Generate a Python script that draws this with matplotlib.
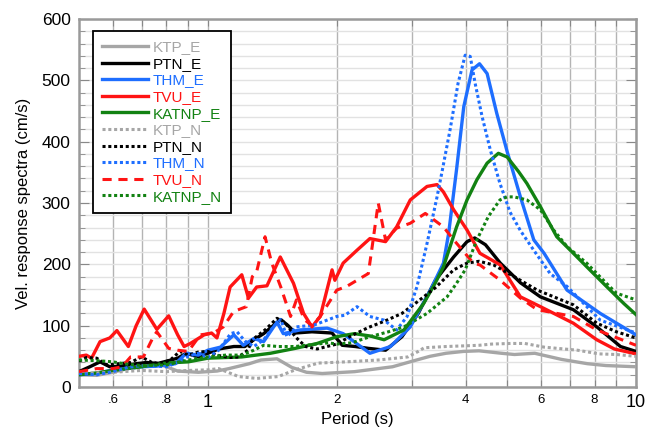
import matplotlib
matplotlib.use("Agg")
import matplotlib.pyplot as plt
from matplotlib.ticker import FixedLocator, MultipleLocator, NullFormatter

plt.rcParams['font.family'] = ['Liberation Sans', 'DejaVu Sans']

# ---- spectra data: period (s) and velocity response (cm/s) ----
ktp_e_p = [0.5, 0.55, 0.6, 0.65, 0.7, 0.75, 0.8, 0.85, 0.95, 1.05, 1.12, 1.25, 1.33, 1.45,
           1.57, 1.7, 1.85, 2.2, 2.5, 2.7, 3.0, 3.3, 3.6, 3.95, 4.3, 4.85, 5.2, 5.8, 6.7,
           7.7, 8.5, 10]
ktp_e_v = [20, 19, 24, 30, 36, 40, 33, 26, 24, 26, 30, 38, 44, 46,
           32, 24, 22, 25, 30, 33, 42, 50, 55, 58, 59, 55, 53, 55, 45,
           38, 35, 33]

ktp_n_p = [0.5, 0.6, 0.7, 0.8, 0.9, 1.0, 1.06, 1.18, 1.3, 1.46, 1.6, 1.81, 2.1, 2.5, 2.93,
           3.1, 3.2, 3.6, 4.3, 4.6, 5.1, 5.5, 6.1, 7.3, 8.2, 9.0, 10]
ktp_n_v = [22, 24, 27, 25, 27, 28, 30, 17, 14, 17, 28, 39, 41, 44, 49,
           58, 64, 66, 68, 70, 71, 71, 65, 60, 54, 53, 50]

ptn_e_p = [0.5, 0.53, 0.56, 0.59, 0.63, 0.68, 0.72, 0.76, 0.8, 0.85, 0.89, 0.95, 1.0, 1.06,
           1.15, 1.22, 1.28, 1.35, 1.42, 1.48, 1.54, 1.6, 1.75, 1.95, 2.06, 2.21, 2.37,
           2.6, 2.84, 3.1, 3.4, 3.75, 4.03, 4.2, 4.45, 4.82, 5.37, 5.98, 7.14, 8.1, 9.2, 10]
ptn_e_v = [25, 33, 41, 33, 34, 38, 40, 38, 42, 47, 55, 49, 55, 62,
           66, 66, 77, 87, 100, 110, 100, 88, 90, 88, 68, 66, 63,
           60, 82, 120, 174, 212, 237, 243, 232, 202, 170, 147, 126, 98, 66, 58]

ptn_n_p = [0.5, 0.52, 0.55, 0.58, 0.62, 0.66, 0.7, 0.74, 0.78, 0.82, 0.86, 0.9, 0.95, 1.0,
           1.05, 1.12, 1.18, 1.24, 1.27, 1.36, 1.45, 1.52, 1.6, 1.69, 1.8, 2.0, 2.17,
           2.37, 2.6, 2.84, 3.1, 3.4, 3.75, 4.03, 4.3, 4.65, 5.19, 5.88, 7.14, 8.1, 9.0, 10]
ptn_n_v = [42, 48, 47, 36, 38, 40, 49, 40, 38, 45, 58, 52, 57, 58,
           52, 48, 49, 60, 77, 93, 112, 104, 82, 66, 62, 70, 84,
           97, 108, 120, 140, 162, 191, 202, 205, 199, 180, 158, 134, 104, 90, 80]

thm_e_p = [0.5, 0.55, 0.6, 0.65, 0.7, 0.76, 0.84, 0.89, 0.95, 1.0, 1.07, 1.15, 1.21, 1.28,
           1.35, 1.45, 1.5, 1.64, 1.8, 1.9, 2.07, 2.39, 2.67, 2.97, 3.31, 3.55, 3.65,
           3.81, 3.96, 4.14, 4.31, 4.49, 4.73, 5.0, 5.37, 5.77, 6.1, 6.9, 8.25, 10]
thm_e_v = [20, 22, 28, 30, 33, 34, 38, 55, 52, 60, 65, 85, 68, 79,
           74, 106, 87, 93, 95, 96, 87, 55, 66, 98, 158, 202, 250,
           355, 457, 517, 527, 511, 446, 384, 310, 240, 218, 158, 120, 85]

thm_n_p = [0.5, 0.55, 0.6, 0.65, 0.7, 0.75, 0.8, 0.85, 0.9, 0.95, 1.0, 1.06, 1.13, 1.17,
           1.22, 1.28, 1.35, 1.42, 1.48, 1.53, 1.61, 1.77, 2.0, 2.09, 2.23, 2.39, 2.58,
           2.76, 2.92, 3.08, 3.25, 3.43, 3.53, 3.68, 3.84, 3.99, 4.1, 4.21, 4.37, 4.57,
           4.81, 5.08, 5.37, 5.77, 6.3, 6.9, 7.55, 8.25, 10]
thm_n_v = [22, 20, 25, 32, 35, 34, 33, 40, 50, 55, 48, 60, 87, 90,
           75, 66, 77, 98, 110, 82, 98, 101, 115, 117, 131, 115, 109,
           93, 115, 164, 234, 310, 354, 420, 495, 541, 539, 495, 441, 386,
           332, 285, 255, 223, 185, 164, 136, 109, 88]

tvu_e_p = [0.5, 0.52, 0.535, 0.56, 0.59, 0.613, 0.652, 0.68, 0.71, 0.76, 0.81, 0.85, 0.88,
           0.91, 0.98, 1.02, 1.05, 1.09, 1.127, 1.2, 1.244, 1.3, 1.374, 1.476, 1.585,
           1.673, 1.75, 1.83, 1.95, 1.98, 2.07, 2.23, 2.39, 2.6, 2.76, 2.97, 3.25, 3.43,
           3.55, 3.75, 4.03, 4.32, 4.82, 5.37, 5.98, 7.14, 8.1, 8.9, 10]
tvu_e_v = [50, 52, 47, 74, 80, 92, 66, 100, 127, 94, 116, 85, 66,
           71, 85, 88, 80, 120, 163, 183, 145, 163, 165, 212, 169,
           120, 98, 115, 191, 174, 202, 223, 242, 237, 261, 305, 327, 330,
           318, 289, 256, 218, 199, 147, 131, 104, 77, 62, 54]

tvu_n_p = [0.5, 0.55, 0.6, 0.63, 0.66, 0.707, 0.746, 0.76, 0.81, 0.85, 0.9, 0.96, 1.03,
           1.087, 1.148, 1.23, 1.27, 1.30, 1.36, 1.41, 1.48, 1.56, 1.61, 1.68, 1.75,
           1.83, 2.0, 2.11, 2.37, 2.42, 2.5, 2.6, 2.76, 2.97, 3.22, 3.55, 3.75, 4.17,
           4.32, 4.82, 5.37, 5.88, 7.14, 8.1, 10]
tvu_n_v = [25, 30, 30, 33, 49, 49, 82, 90, 63, 60, 58, 85, 88,
           98, 123, 131, 180, 188, 245, 202, 163, 115, 142, 110, 100,
           115, 158, 164, 185, 229, 300, 240, 259, 267, 283, 261, 240, 202,
           199, 174, 145, 126, 115, 93, 68]

katnp_e_p = [0.5, 0.55, 0.6, 0.7, 0.8, 0.9, 1.0, 1.2, 1.4, 1.6, 1.8, 2.0, 2.2, 2.4, 2.58,
             2.87, 3.19, 3.4, 3.55, 3.81, 4.03, 4.25, 4.49, 4.77, 5.0, 5.32, 5.56, 5.98,
             6.53, 7.14, 7.8, 8.53, 9.37, 10]
katnp_e_v = [20, 23, 27, 33, 39, 41, 47, 49, 55, 63, 71, 82, 87, 83, 77,
             93, 136, 170, 196, 261, 305, 338, 365, 381, 375, 351, 332, 294,
             245, 218, 191, 164, 136, 118]

katnp_n_p = [0.5, 0.55, 0.6, 0.65, 0.7, 0.8, 0.9, 1.0, 1.1, 1.2, 1.28, 1.35, 1.46, 1.6,
             1.69, 1.91, 2.0, 2.17, 2.39, 2.64, 2.87, 3.25, 3.62, 3.8, 3.99, 4.25, 4.52,
             4.81, 5.0, 5.19, 5.56, 5.98, 6.42, 6.9, 7.67, 8.53, 9.0, 10]
katnp_n_v = [44, 43, 41, 37, 35, 36, 44, 49, 52, 52, 60, 68, 66, 66,
             68, 72, 70, 72, 82, 90, 98, 120, 147, 168, 191, 240, 278,
             305, 310, 310, 305, 289, 256, 229, 202, 169, 153, 142]

GRAY, BLACK, BLUE, RED, GREEN = '#a6a6a6', '#000000', '#1e6eff', '#ff1414', '#128212'
DOT = (0, (1.0, 0.9))
DASH = (0, (3.0, 2.2))

series = [
    ('KTP_E', ktp_e_p, ktp_e_v, GRAY, '-'),
    ('PTN_E', ptn_e_p, ptn_e_v, BLACK, '-'),
    ('THM_E', thm_e_p, thm_e_v, BLUE, '-'),
    ('TVU_E', tvu_e_p, tvu_e_v, RED, '-'),
    ('KATNP_E', katnp_e_p, katnp_e_v, GREEN, '-'),
    ('KTP_N', ktp_n_p, ktp_n_v, GRAY, DOT),
    ('PTN_N', ptn_n_p, ptn_n_v, BLACK, DOT),
    ('THM_N', thm_n_p, thm_n_v, BLUE, DOT),
    ('TVU_N', tvu_n_p, tvu_n_v, RED, DASH),
    ('KATNP_N', katnp_n_p, katnp_n_v, GREEN, DOT),
]

fig = plt.figure(figsize=(6.46, 4.28), dpi=100)
ax = fig.add_axes([79 / 646, 41 / 428, 557 / 646, 368 / 428])

for name, p, v, c, ls in series:
    lw = 2.4 if ls == '-' else 2.2
    ax.plot(p, v, color=c, linestyle=ls, linewidth=lw, label=name,
            solid_joinstyle='round', zorder=3)

ax.set_xscale('log')
ax.set_xlim(0.5, 10)
ax.set_ylim(0, 600)

xt = [0.6, 0.7, 0.8, 0.9, 1, 2, 3, 4, 5, 6, 7, 8, 9, 10]
xl = ['.6', '', '.8', '', '1', '2', '', '4', '', '6', '', '8', '', '10']
ax.xaxis.set_major_locator(FixedLocator(xt))
ax.xaxis.set_minor_locator(FixedLocator([]))
ax.xaxis.set_minor_formatter(NullFormatter())
ax.set_xticklabels(xl)
for lab, t in zip(ax.get_xticklabels(), xt):
    lab.set_fontsize(13 if t in (1, 10) else 9.5)

ax.yaxis.set_major_locator(MultipleLocator(100))
ax.yaxis.set_minor_locator(MultipleLocator(20))
ax.tick_params(axis='y', which='major', labelsize=12.5, direction='in', length=7,
               right=True, color='#888888', pad=6)
ax.tick_params(axis='y', which='minor', direction='in', length=4, right=True, color='#888888')
ax.tick_params(axis='x', which='major', direction='in', length=5, top=True, color='#888888',
               pad=5)

ax.grid(axis='x', which='major', color='#b4b4b4', linewidth=1.0, zorder=1)
ax.grid(axis='y', which='both', color='#e2e2e2', linewidth=1.0, zorder=1)
ax.set_axisbelow(True)

for s in ax.spines.values():
    s.set_color('#9a9a9a')
    s.set_linewidth(1.8)

ax.set_xlabel('Period (s)', fontsize=12, labelpad=1)
ax.set_ylabel('Vel. response spectra (cm/s)', fontsize=12, labelpad=8)

leg = ax.legend(loc='upper left', bbox_to_anchor=(0.0246, 0.967), borderaxespad=0,
                fontsize=11, handlelength=3.0, handletextpad=0.3, labelspacing=0.17,
                borderpad=0.6, fancybox=False, framealpha=1)
leg.get_frame().set_edgecolor('black')
leg.get_frame().set_linewidth(1.3)
for txt, s in zip(leg.get_texts(), series):
    txt.set_color(s[3])

fig.savefig('out.png', dpi=100)
